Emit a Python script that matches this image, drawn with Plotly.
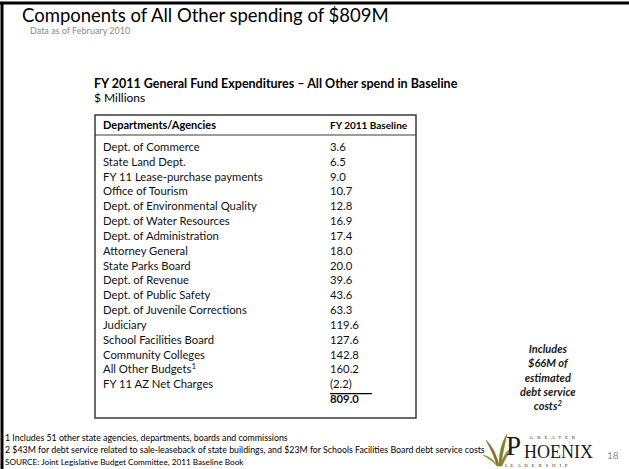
import plotly.graph_objects as go

# ---------------- data ----------------
departments = [
    "Dept. of Commerce",
    "State Land Dept.",
    "FY 11 Lease-purchase payments",
    "Office of Tourism",
    "Dept. of Environmental Quality",
    "Dept. of Water Resources",
    "Dept. of Administration",
    "Attorney General",
    "State Parks Board",
    "Dept. of Revenue",
    "Dept. of Public Safety",
    "Dept. of Juvenile Corrections",
    "Judiciary",
    "School Facilities Board",
    "Community Colleges",
    "All Other Budgets",
    "FY 11 AZ Net Charges",
]
baseline_2011 = [3.6, 6.5, 9.0, 10.7, 12.8, 16.9, 17.4, 18.0, 20.0,
                 39.6, 43.6, 63.3, 119.6, 127.6, 142.8, 160.2, -2.2]
footnote_refs = {"All Other Budgets": "1"}
total_label = "Total"
total_value = 809.0

title_text = "Components of All Other spending of $809M"
subtitle_text = "Data as of February 2010"
table_title = "FY 2011 General Fund Expenditures – All Other spend in Baseline"
units_text = "$ Millions"
col_headers = ["Departments/Agencies", "FY 2011 Baseline"]
note_lines = ["Includes", "$66M of", "estimated", "debt service", "costs<sup>2</sup>"]
footnotes = [
    "1 Includes 51 other state agencies, departments, boards and commissions",
    "2 $43M for debt service related to sale-leaseback of state buildings, and $23M for Schools Facilities Board debt service costs",
]
source_text = "SOURCE: Joint Legislative Budget Committee, 2011 Baseline Book"
page_number = "18"

# ---------------- layout helpers ----------------
W, H = 629, 469
FONT = "Lato, 'Open Sans', sans-serif"


def px(x):
    return x / W


def py(y):
    return 1 - y / H


BOX_L, BOX_R, BOX_T, BOX_B = 95, 416, 115, 418
ROW0, STEP = 149, 15.25
NAME_X, VAL_X = 8, 235

labels = [d + (f"<sup>{footnote_refs[d]}</sup>" if d in footnote_refs else "")
          for d in departments]
value_text = [f"({abs(v):.1f})" if v < 0 else f"{v:.1f}" for v in baseline_2011]
categories = labels + [total_label]

fig = go.Figure()

fig.add_trace(go.Scatter(
    x=[NAME_X] * len(labels), y=labels, mode="text", text=labels,
    textposition="middle right",
    textfont=dict(family=FONT, size=11.3, color="#111111"),
    hoverinfo="skip", showlegend=False,
))
fig.add_trace(go.Scatter(
    x=[VAL_X] * len(labels), y=labels, mode="text", text=value_text,
    textposition="middle right",
    textfont=dict(family=FONT, size=11.3, color="#111111"),
    hoverinfo="skip", showlegend=False,
))
fig.add_trace(go.Scatter(
    x=[VAL_X], y=[total_label], mode="text", text=[f"<b>{total_value:.1f}</b>"],
    textposition="middle right",
    textfont=dict(family=FONT, size=11.3, color="#111111"),
    hoverinfo="skip", showlegend=False,
))

fig.update_layout(
    width=W, height=H,
    margin=dict(l=0, r=0, t=0, b=0),
    paper_bgcolor="white", plot_bgcolor="rgba(0,0,0,0)",
    showlegend=False,
    xaxis=dict(domain=[px(BOX_L), px(BOX_R)], range=[0, BOX_R - BOX_L],
               visible=False, fixedrange=True),
    yaxis=dict(domain=[py(BOX_B), py(BOX_T)], type="category",
               categoryorder="array", categoryarray=categories,
               range=[(BOX_B - ROW0) / STEP + 0.55, (BOX_T - ROW0) / STEP],
               visible=False, fixedrange=True),
)

shapes = []
# slide frame
shapes.append(dict(type="line", xref="paper", yref="paper", x0=px(0), x1=px(W),
                   y0=py(3), y1=py(3), line=dict(color="black", width=3)))
shapes.append(dict(type="line", xref="paper", yref="paper", x0=px(2), x1=px(2),
                   y0=py(2), y1=py(H), line=dict(color="black", width=3)))
# table box
shapes.append(dict(type="rect", xref="paper", yref="paper",
                   x0=px(BOX_L), x1=px(BOX_R), y0=py(BOX_B), y1=py(BOX_T),
                   line=dict(color="#3a3a3a", width=1.5)))
shapes.append(dict(type="line", xref="paper", yref="paper",
                   x0=px(BOX_L), x1=px(BOX_R), y0=py(135), y1=py(135),
                   line=dict(color="#3a3a3a", width=1.2)))
# total overline (between last row and total row)
shapes.append(dict(type="line", xref="x", yref="y",
                   x0=VAL_X, x1=VAL_X + 42,
                   y0=len(labels) - 0.45, y1=len(labels) - 0.45,
                   line=dict(color="black", width=1.2)))

# logo plant (simple leaves)
leaf_paths = [
    ("M 497 466 C 494 455 489 446 486 440 C 492 446 497 455 499 466 Z", "#8a6a2e"),
    ("M 499 466 C 499 452 502 442 507 434 C 505 444 502 455 501 466 Z", "#6f8a2a"),
    ("M 500 466 C 503 456 508 449 514 446 C 509 452 505 459 502 466 Z", "#9c7a35"),
    ("M 498 466 C 493 459 488 456 483 455 C 489 459 494 462 497 466 Z", "#7d9b36"),
]
for p, c in leaf_paths:
    toks = p.split()
    out = []
    i = 0
    while i < len(toks):
        t = toks[i]
        if t.isalpha():
            out.append(t)
            i += 1
        else:
            x = float(toks[i]); y = float(toks[i + 1])
            out.append(f"{px(x):.5f},{py(y):.5f}")
            i += 2
    shapes.append(dict(type="path", xref="paper", yref="paper", path=" ".join(out),
                       fillcolor=c, line=dict(color=c, width=0.5)))

fig.update_layout(shapes=shapes)

ann = []


def text(x, y, s, size, color="#000000", anchor="left", family=FONT, yanchor="middle"):
    ann.append(dict(xref="paper", yref="paper", x=px(x), y=py(y), text=s,
                    showarrow=False, xanchor=anchor, yanchor=yanchor,
                    font=dict(family=family, size=size, color=color)))


text(20, 15, title_text, 18.5)
text(28, 30, subtitle_text, 9, color="#8c8c8c")
text(92, 84, f"<b>{table_title}</b>", 12.5)
text(92, 98, units_text, 12)
text(BOX_L + NAME_X - 2, 125, f"<b>{col_headers[0]}</b>", 11)
text(BOX_L + VAL_X - 2, 125, f"<b>{col_headers[1]}</b>", 10)

ann.append(dict(xref="paper", yref="paper", x=px(548), y=py(377),
                text="<b><i>" + "<br>".join(note_lines) + "</i></b>",
                showarrow=False, xanchor="center", yanchor="middle", align="center",
                font=dict(family=FONT, size=11, color="#1a1a1a")))

text(3, 437, footnotes[0], 8.8)
text(3, 449, footnotes[1], 8.8)
text(3, 462, source_text, 8.2)

# logo text
SERIF = "'Liberation Serif', 'DejaVu Serif', serif"
text(504, 446, "P", 27, color="#1a1a1a", family=SERIF)
text(522, 452, "HOENIX", 18, color="#1a1a1a", family=SERIF)
text(528, 437, "G &nbsp;&nbsp;R &nbsp;&nbsp;E &nbsp;&nbsp;A &nbsp;&nbsp;T &nbsp;&nbsp;E &nbsp;&nbsp;R",
     5, color="#333333", family=SERIF)
text(503, 465, "L &nbsp;E &nbsp;&nbsp;A &nbsp;&nbsp;D &nbsp;&nbsp;E &nbsp;&nbsp;R &nbsp;&nbsp;S &nbsp;&nbsp;H &nbsp;&nbsp;I &nbsp;&nbsp;P",
     5, color="#333333", family=SERIF)
text(605, 455, page_number, 10, color="#8c8c8c")

fig.update_layout(annotations=ann)

fig.write_html("out.html", config={"displayModeBar": False},
               post_script="document.body.style.margin='0px';")
